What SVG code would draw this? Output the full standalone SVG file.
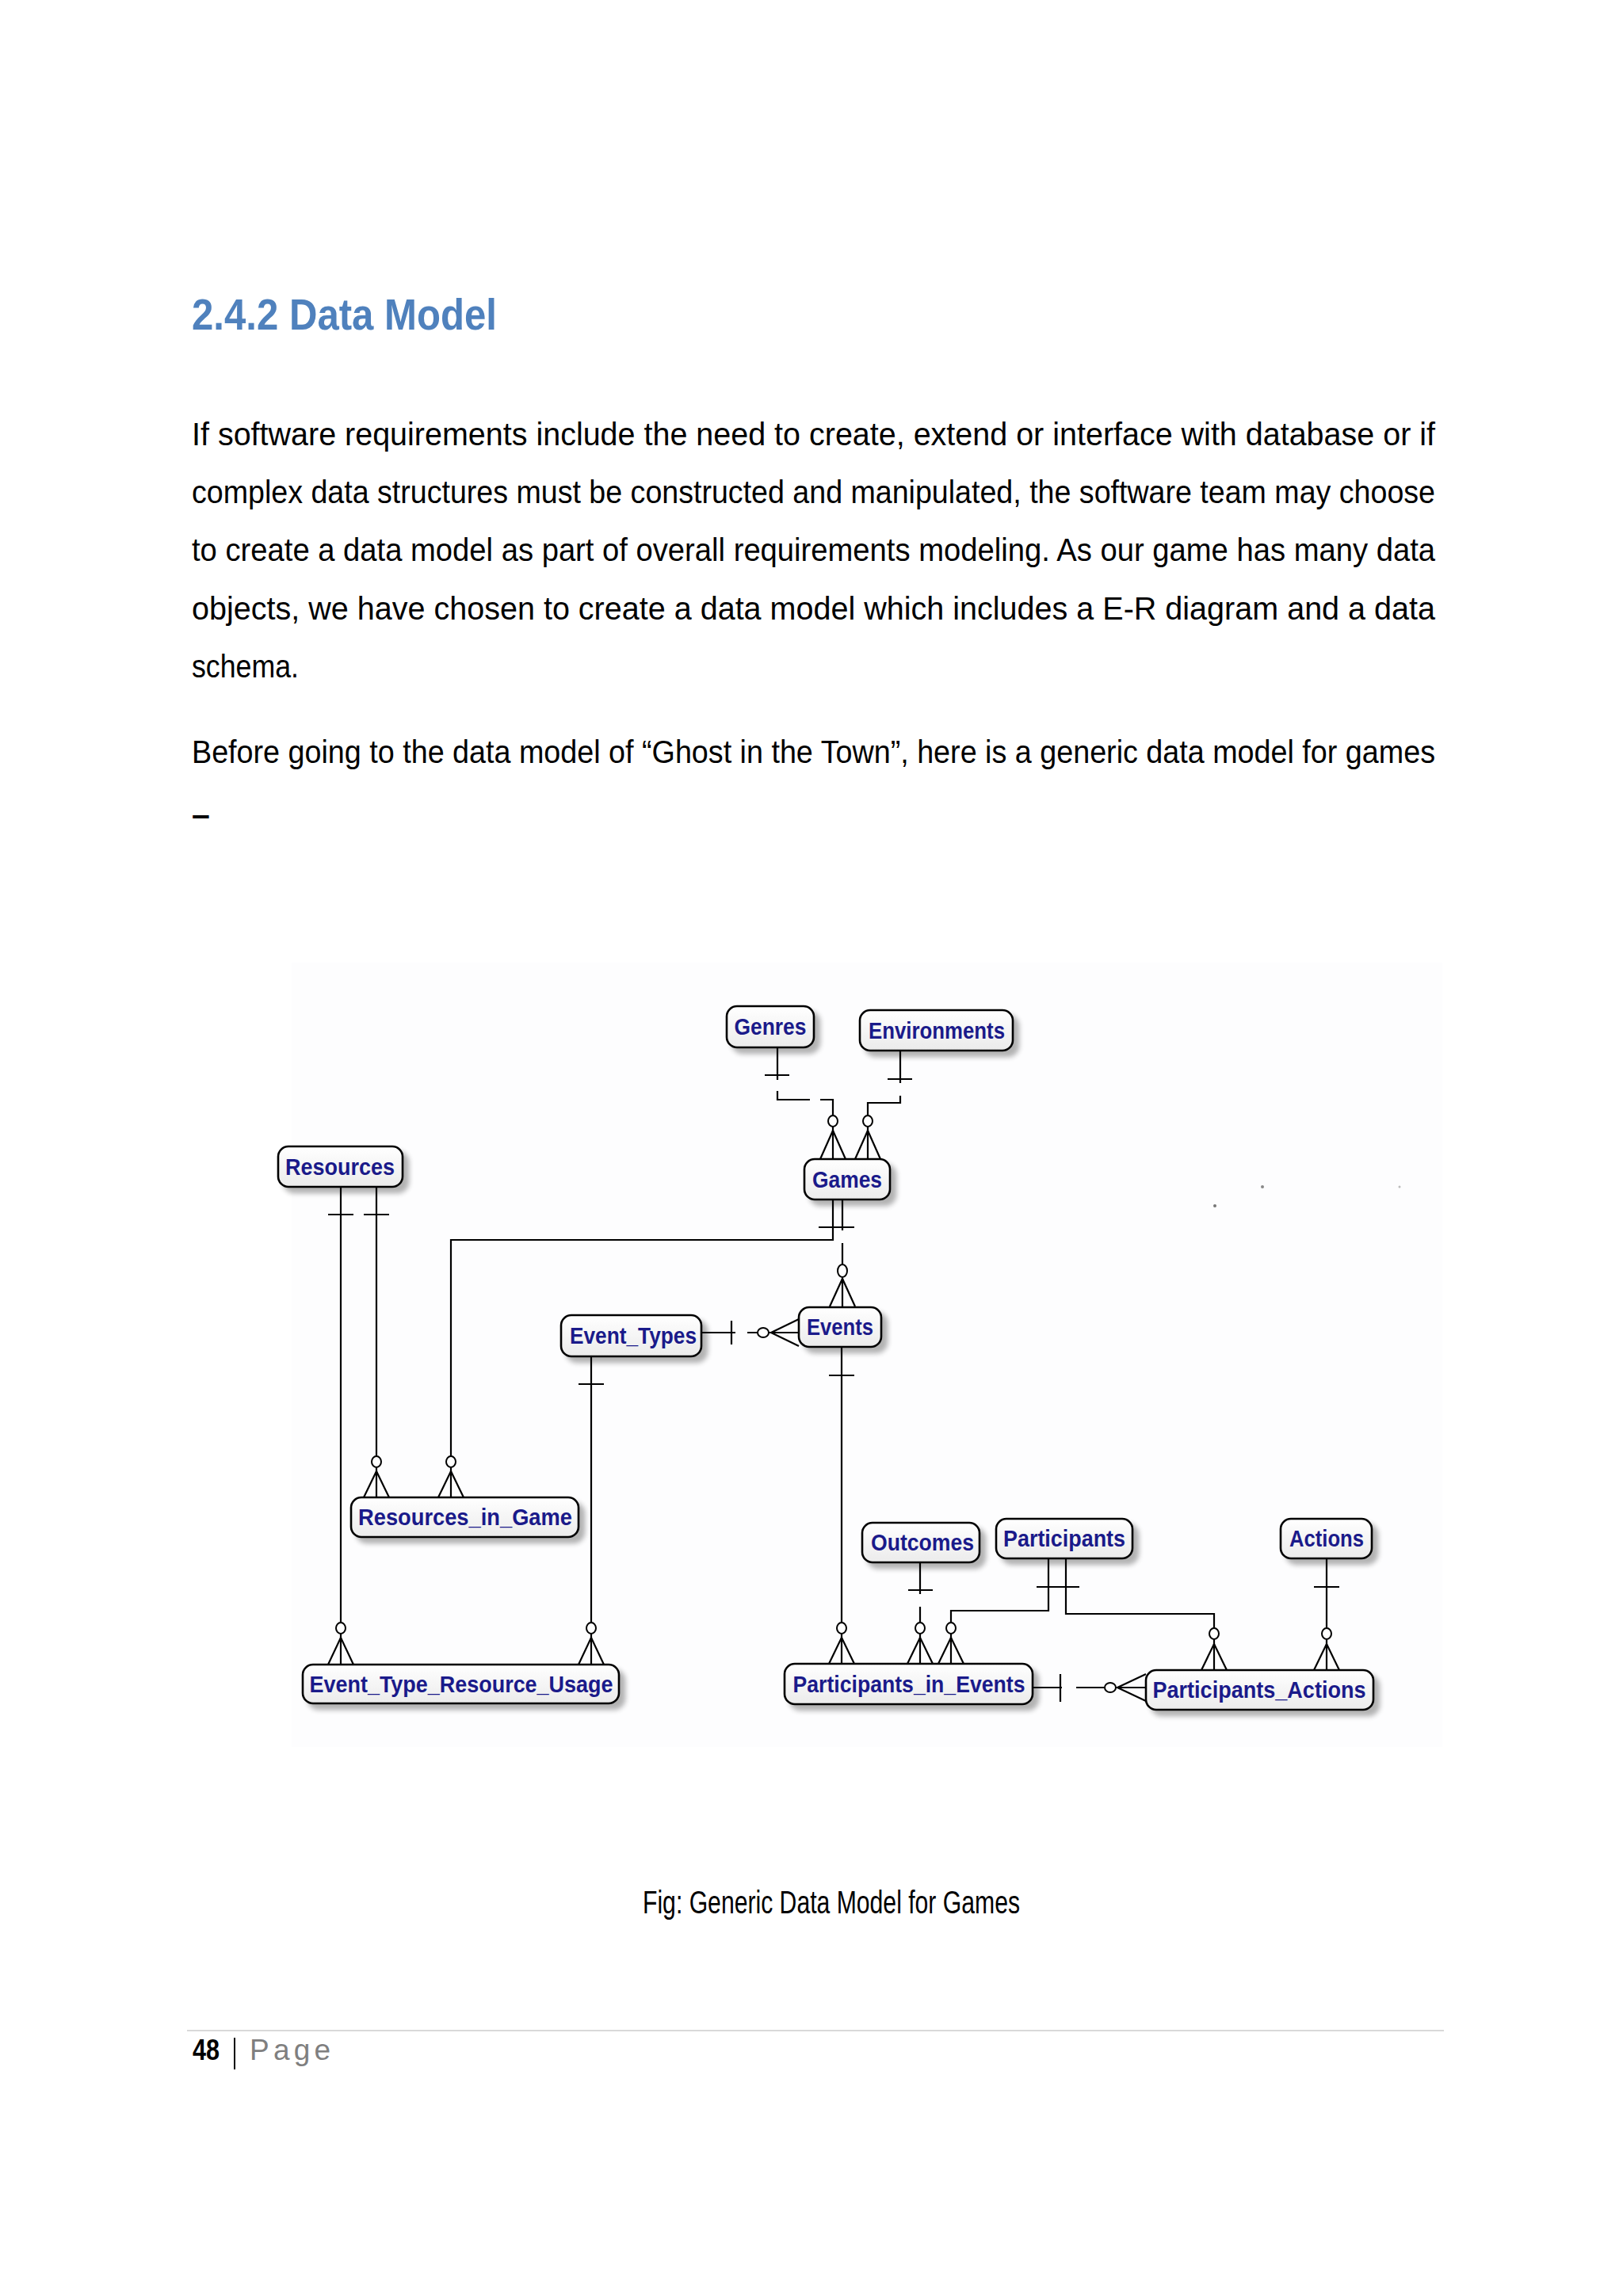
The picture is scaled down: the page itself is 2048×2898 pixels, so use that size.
<svg xmlns="http://www.w3.org/2000/svg" width="2048" height="2898" viewBox="0 0 2048 2898">
<defs>
<linearGradient id="nodeFill" x1="0" y1="0" x2="0" y2="1">
<stop offset="0" stop-color="#ffffff"/>
<stop offset="1" stop-color="#ebebeb"/>
</linearGradient>
<filter id="shadow" x="-10%" y="-20%" width="130%" height="160%">
<feGaussianBlur in="SourceAlpha" stdDeviation="3"/>
<feOffset dx="7" dy="7" result="o"/>
<feComponentTransfer><feFuncA type="linear" slope="0.3"/></feComponentTransfer>
<feMerge><feMergeNode/><feMergeNode in="SourceGraphic"/></feMerge>
</filter>
</defs>
<style>
.body{font-family:"Liberation Sans Narrow","Liberation Sans",Arial,sans-serif;font-size:41px;fill:#000}
.title{font-family:"Liberation Sans Narrow","Liberation Sans",Arial,sans-serif;font-size:56px;font-weight:bold;fill:#4F81BD}
.node rect{fill:url(#nodeFill);stroke:#000;stroke-width:2.6;filter:url(#shadow)}
.node text{font-family:"Liberation Sans",Arial,sans-serif;font-weight:bold;font-size:29px;fill:#1a1a8a;text-anchor:middle}
.conn path,.conn line{fill:none;stroke:#000;stroke-width:2.2}
.conn ellipse{fill:#fff;stroke:#000;stroke-width:2}
</style>
<rect width="2048" height="2898" fill="#ffffff"/>
<rect x="368" y="1215" width="1452" height="990" fill="#fdfdfe"/>

<!-- Heading and body text -->
<text class="title" x="242" y="416" textLength="385" lengthAdjust="spacingAndGlyphs">2.4.2 Data Model</text>
<text class="body" x="242" y="562" textLength="1569" lengthAdjust="spacingAndGlyphs">If software requirements include the need to create, extend or interface with database or if</text>
<text class="body" x="242" y="635" textLength="1569" lengthAdjust="spacingAndGlyphs">complex data structures must be constructed and manipulated, the software team may choose</text>
<text class="body" x="242" y="708" textLength="1569" lengthAdjust="spacingAndGlyphs">to create a data model as part of overall requirements modeling. As our game has many data</text>
<text class="body" x="242" y="782" textLength="1569" lengthAdjust="spacingAndGlyphs">objects, we have chosen to create a data model which includes a E-R diagram and a data</text>
<text class="body" x="242" y="855" textLength="135" lengthAdjust="spacingAndGlyphs">schema.</text>
<text class="body" x="242" y="963" textLength="1569" lengthAdjust="spacingAndGlyphs">Before going to the data model of “Ghost in the Town”, here is a generic data model for games</text>
<text class="body" x="242" y="1042" font-weight="bold">–</text>

<!-- specks -->
<circle cx="1533" cy="1522" r="2" fill="#777"/>
<circle cx="1593" cy="1498" r="2" fill="#888"/>
<circle cx="1766" cy="1498" r="1.5" fill="#bbb"/>

<!-- Connectors -->
<g id="connectors" class="conn">
<!-- Genres - Games -->
<path d="M981 1322 V1363 M965 1357 H996 M981 1377 V1388 H1022 M1035 1388 H1051 V1463"/>
<path d="M1035 1463 L1051 1427 L1067 1463"/>
<ellipse cx="1051" cy="1415" rx="6" ry="7"/>
<!-- Environments - Games -->
<path d="M1136 1326 V1367 M1120 1362 H1151 M1136 1383 V1392 H1095 V1463"/>
<path d="M1079 1463 L1095 1427 L1111 1463"/>
<ellipse cx="1095" cy="1415" rx="6" ry="7"/>
<!-- Resources - Event_Type_Resource_Usage -->
<path d="M430 1498 V2101 M414 1533 H446"/>
<path d="M414 2101 L430 2067 L446 2101"/>
<ellipse cx="430" cy="2055" rx="6" ry="7"/>
<!-- Resources - Resources_in_Game -->
<path d="M475 1498 V1890 M459 1533 H491"/>
<path d="M459 1890 L475 1857 L491 1890"/>
<ellipse cx="475" cy="1845" rx="6" ry="7"/>
<!-- Games - Resources_in_Game -->
<path d="M1051 1514 V1565 H569 V1890 M1033 1549 H1078"/>
<path d="M553 1890 L569 1857 L585 1890"/>
<ellipse cx="569" cy="1845" rx="6" ry="7"/>
<!-- Games - Events -->
<path d="M1063 1514 V1553 M1063 1569 V1649"/>
<path d="M1047 1649 L1063 1614 L1079 1649"/>
<ellipse cx="1063" cy="1604" rx="6" ry="8"/>
<!-- Event_Types - Events -->
<path d="M885 1682 H928 M923 1667 V1697 M943 1682 H1008"/>
<path d="M1008 1665 L973 1682 L1008 1699"/>
<ellipse cx="963" cy="1682" rx="7" ry="6"/>
<!-- Event_Types - Event_Type_Resource_Usage -->
<path d="M746 1712 V2101 M730 1747 H762"/>
<path d="M730 2101 L746 2067 L762 2101"/>
<ellipse cx="746" cy="2055" rx="6" ry="7"/>
<!-- Events - Participants_in_Events -->
<path d="M1062 1700 V2100 M1046 1736 H1078"/>
<path d="M1046 2100 L1062 2067 L1078 2100"/>
<ellipse cx="1062" cy="2055" rx="6" ry="7"/>
<!-- Outcomes - Participants_in_Events -->
<path d="M1161 1972 V2012 M1146 2007 H1177 M1161 2028 V2100"/>
<path d="M1145 2100 L1161 2067 L1177 2100"/>
<ellipse cx="1161" cy="2055" rx="6" ry="7"/>
<!-- Participants - Participants_in_Events -->
<path d="M1323 1967 V2033 H1200 V2100 M1308 2003 H1362"/>
<path d="M1184 2100 L1200 2067 L1216 2100"/>
<ellipse cx="1200" cy="2055" rx="6" ry="7"/>
<!-- Participants - Participants_Actions -->
<path d="M1345 1967 V2037 H1532 V2108"/>
<path d="M1516 2108 L1532 2075 L1548 2108"/>
<ellipse cx="1532" cy="2062" rx="6" ry="7"/>
<!-- Actions - Participants_Actions -->
<path d="M1674 1967 V2108 M1658 2003 H1690"/>
<path d="M1658 2108 L1674 2075 L1690 2108"/>
<ellipse cx="1674" cy="2062" rx="6" ry="7"/>
<!-- Participants_in_Events - Participants_Actions -->
<path d="M1303 2130 H1340 M1338 2113 V2148 M1358 2130 H1446"/>
<path d="M1446 2113 L1410 2130 L1446 2147"/>
<ellipse cx="1401" cy="2130" rx="7" ry="6"/>
</g>

<!-- Nodes -->
<g id="genres" class="node"><rect x="917" y="1270" width="110" height="52" rx="13"/><text x="972" y="1306" textLength="91" lengthAdjust="spacingAndGlyphs">Genres</text></g>
<g id="environments" class="node"><rect x="1085" y="1275" width="193" height="51" rx="13"/><text x="1182" y="1311" textLength="172" lengthAdjust="spacingAndGlyphs">Environments</text></g>
<g id="games" class="node"><rect x="1015" y="1463" width="108" height="51" rx="13"/><text x="1069" y="1499" textLength="88" lengthAdjust="spacingAndGlyphs">Games</text></g>
<g id="resources" class="node"><rect x="351" y="1447" width="157" height="51" rx="13"/><text x="429" y="1483" textLength="138" lengthAdjust="spacingAndGlyphs">Resources</text></g>
<g id="event_types" class="node"><rect x="708" y="1660" width="177" height="52" rx="13"/><text x="799" y="1696" textLength="160" lengthAdjust="spacingAndGlyphs">Event_Types</text></g>
<g id="events" class="node"><rect x="1008" y="1650" width="104" height="50" rx="13"/><text x="1060" y="1685" textLength="84" lengthAdjust="spacingAndGlyphs">Events</text></g>
<g id="resources_in_game" class="node"><rect x="443" y="1890" width="287" height="50" rx="13"/><text x="587" y="1925" textLength="270" lengthAdjust="spacingAndGlyphs">Resources_in_Game</text></g>
<g id="event_type_resource_usage" class="node"><rect x="382" y="2101" width="399" height="49" rx="13"/><text x="582" y="2136" textLength="383" lengthAdjust="spacingAndGlyphs">Event_Type_Resource_Usage</text></g>
<g id="outcomes" class="node"><rect x="1088" y="1922" width="148" height="50" rx="13"/><text x="1164" y="1957" textLength="130" lengthAdjust="spacingAndGlyphs">Outcomes</text></g>
<g id="participants" class="node"><rect x="1257" y="1917" width="172" height="50" rx="13"/><text x="1343" y="1952" textLength="154" lengthAdjust="spacingAndGlyphs">Participants</text></g>
<g id="actions" class="node"><rect x="1616" y="1917" width="115" height="50" rx="13"/><text x="1674" y="1952" textLength="94" lengthAdjust="spacingAndGlyphs">Actions</text></g>
<g id="participants_in_events" class="node"><rect x="990" y="2100" width="313" height="51" rx="13"/><text x="1147" y="2136" textLength="293" lengthAdjust="spacingAndGlyphs">Participants_in_Events</text></g>
<g id="participants_actions" class="node"><rect x="1446" y="2108" width="287" height="50" rx="13"/><text x="1589" y="2143" textLength="269" lengthAdjust="spacingAndGlyphs">Participants_Actions</text></g>

<!-- Caption -->
<text class="body" x="811" y="2415" font-size="33" textLength="476" lengthAdjust="spacingAndGlyphs">Fig: Generic Data Model for Games</text>

<!-- Footer -->
<line x1="236" y1="2563" x2="1822" y2="2563" stroke="#d9d9d9" stroke-width="2"/>
<text x="243" y="2600" font-family="Liberation Sans Narrow,Liberation Sans,Arial,sans-serif" font-weight="bold" font-size="37" textLength="34" lengthAdjust="spacingAndGlyphs">48</text>
<line x1="296" y1="2572" x2="296" y2="2612" stroke="#000" stroke-width="2"/>
<text x="315" y="2600" font-family="Liberation Sans Narrow,Liberation Sans,Arial,sans-serif" font-size="37" fill="#7f7f7f" textLength="102" lengthAdjust="spacing">Page</text>
</svg>
